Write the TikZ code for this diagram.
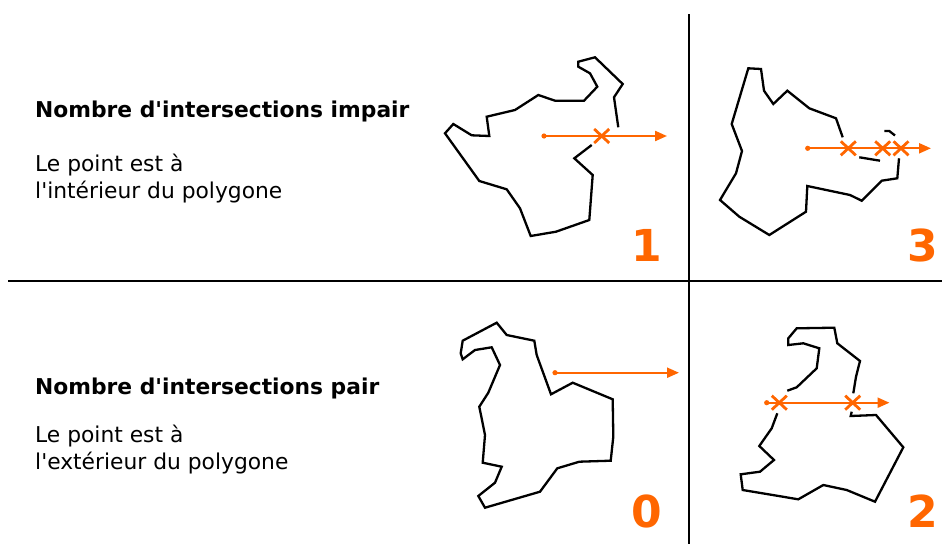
\documentclass[tikz,border=0pt]{standalone}
\usepackage{fontspec}
\newfontfamily\djv{DejaVu Sans}
\usetikzlibrary{arrows.meta}
\definecolor{orng}{HTML}{FF6600}
\tikzset{
  poly/.style={black, line width=2.3pt, line join=miter},
  divider/.style={black, line width=2.8pt},
  ray/.style={orng, line width=2.2pt, -{Triangle[length=12pt, width=10pt]}},
  headtxt/.style={anchor=base west, inner sep=0pt, font=\djv\fontsize{21.8}{27}\selectfont\bfseries},
  bodytxt/.style={anchor=base west, inner sep=0pt, align=left, font=\djv\fontsize{21.8}{27}\selectfont},
  numtxt/.style={anchor=base, inner sep=0pt, text=orng, font=\djv\fontsize{44}{44}\selectfont\bfseries},
  xmark/.pic={\draw[orng, line width=2.8pt] (-7.5,-7) -- (7.5,7) (-7.5,7) -- (7.5,-7);}
}
\begin{document}
\begin{tikzpicture}[x=1pt, y=-1pt]
\useasboundingbox (0,0) rectangle (942,544);
% dividers
\coordinate (hl) at (8,281);
\coordinate (hr) at (942,281);
\coordinate (vt) at (689,14);
\coordinate (vb) at (689,544);
\draw[divider] (hl) -- (hr);
\draw[divider] (vt) -- (vb);
% texts
\node[headtxt] (h1) at (35,117) {Nombre d'intersections impair};
\node[bodytxt] (t1) at (35,198) {Le point est à\\l'intérieur du polygone};
\node[headtxt] (h2) at (35,394) {Nombre d'intersections pair};
\node[bodytxt] (t2) at (35,469) {Le point est à\\l'extérieur du polygone};
\node[numtxt] (n1) at (647,261) {1};
\node[numtxt] (n3) at (922.5,261) {3};
\node[numtxt] (n0) at (646.5,527) {0};
\node[numtxt] (n2) at (923,527) {2};
% polygon 1 (odd, one crossing)
\draw[poly] (591.7,145) -- (574.3,158.3) -- (592.7,175) -- (589.3,220) -- (556,231.7) -- (530.7,236) -- (520,208.3) -- (506.7,189.3) -- (479.3,181) -- (445,133.3) -- (453.3,124) -- (471.7,135.3) -- (489.3,136) -- (486.7,116.7) -- (515,110) -- (538.3,95) -- (555,100.7) -- (584,100.7) -- (597.3,86.7) -- (590,73.3) -- (578.3,66.7) -- (578.3,61.7) -- (595,57.3) -- (622.7,84) -- (614,97.3) -- (618.3,127.3);
\coordinate (r1s) at (544,136);
\coordinate (r1e) at (667,136);
\draw[ray] (r1s) -- (r1e);
\fill[orng] (r1s) circle (2.6);
\pic at (601.7,136) {xmark};
% polygon 2 (three crossings)
\draw[poly] (842.7,137.3) -- (836,118.3) -- (809.3,108.3) -- (787.3,90.7) -- (773.3,104) -- (764,90.7) -- (761,69) -- (748.3,68.3) -- (731.7,124) -- (742,151) -- (736,173.3) -- (720,200) -- (739.3,216.7) -- (769.3,235) -- (806,211.7) -- (807.3,186) -- (850,195) -- (861.7,200.7) -- (881.7,180.7) -- (897.3,178.3) -- (899,158.3);
\draw[poly] (884.3,131) -- (889.3,131) -- (895,135.5);
\draw[poly] (859.3,157.3) -- (880,160.7);
\coordinate (r2s) at (807.7,148.3);
\coordinate (r2e) at (931,148.3);
\draw[ray] (r2s) -- (r2e);
\fill[orng] (r2s) circle (2.6);
\pic at (848.3,148.3) {xmark};
\pic at (882.7,148.3) {xmark};
\pic at (901,148.3) {xmark};
% polygon 3 (outside, no crossing)
\draw[poly] (496.7,322.7) -- (506.7,335) -- (534.3,340.7) -- (536.7,355) -- (551,394.3) -- (572.7,382.7) -- (612.7,399.3) -- (613.3,436.7) -- (610.7,460.7) -- (579.3,461.7) -- (557.3,468.3) -- (540,491.7) -- (485,507.7) -- (478.3,496) -- (495,482.7) -- (501.7,466.7) -- (482.7,462.7) -- (485,435) -- (479.3,406.7) -- (488.3,392.7) -- (500,365) -- (491.7,347.3) -- (475,350) -- (462.7,359.3) -- (460.7,353.3) -- (462.7,340.7) -- cycle;
\coordinate (r3s) at (555,372.7);
\coordinate (r3e) at (679,372.7);
\draw[ray] (r3s) -- (r3e);
\fill[orng] (r3s) circle (2.6);
% polygon 4 (two crossings)
\draw[poly] (851.7,411.7) -- (850.7,416) -- (876,415) -- (903.3,447.3) -- (875,501.7) -- (846.7,490) -- (823.3,485) -- (798.3,499.3) -- (742.7,490) -- (740.7,474.3) -- (760,471.7) -- (774,460) -- (759.3,446) -- (771.7,428.3) -- (777.3,413.3);
\draw[poly] (787.3,390.7) -- (796.7,387.3) -- (816.7,368.3) -- (819.3,348.3) -- (803.3,343.3) -- (788.3,345) -- (788.3,338.3) -- (796.7,328.3) -- (834.3,327.7) -- (837.3,343.3) -- (860,361) -- (856,376.7) -- (853.3,393.3);
\coordinate (r4s) at (766.7,402.7);
\coordinate (r4e) at (889.5,402.7);
\draw[ray] (r4s) -- (r4e);
\fill[orng] (r4s) circle (2.6);
\pic at (779.3,402.7) {xmark};
\pic at (852.7,402.7) {xmark};
\end{tikzpicture}
\end{document}
